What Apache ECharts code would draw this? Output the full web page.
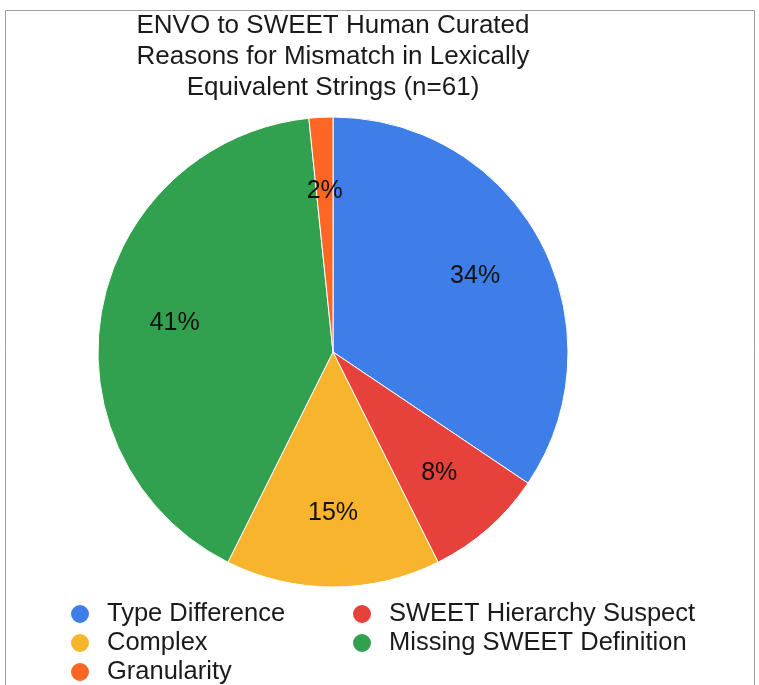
<!DOCTYPE html>
<html>
<head>
<meta charset="utf-8">
<script src="https://cdn.jsdelivr.net/npm/echarts@6/dist/echarts.min.js"></script>
<style>
html,body{margin:0;padding:0;background:#fff;}
#chart{width:759px;height:685px;}
</style>
</head>
<body>
<div id="chart"></div>
<script>
const titleText = 'ENVO to SWEET Human Curated\nReasons for Mismatch in Lexically\nEquivalent Strings (n=61)';
const categories = ['Type Difference', 'SWEET Hierarchy Suspect', 'Complex', 'Missing SWEET Definition', 'Granularity'];
const counts = [21, 5, 9, 25, 1];
const colors = ['#3d7ee9', '#e6413a', '#f8b42d', '#31a04f', '#fd6623'];
const legendCol1 = ['Type Difference', 'Complex', 'Granularity'];
const legendCol2 = ['SWEET Hierarchy Suspect', 'Missing SWEET Definition'];

const FONT = '"Liberation Sans", Arial, Helvetica, sans-serif';
const data = categories.map((c, i) => ({ name: c, value: counts[i], itemStyle: { color: colors[i] } }));

const legendBase = {
  orient: 'vertical',
  icon: 'circle',
  itemWidth: 20,
  itemHeight: 20,
  itemGap: 3,
  top: 601,
  height: 140,
  padding: 0,
  selectedMode: false,
  textStyle: { fontFamily: FONT, fontSize: 25.5, color: '#1a1a1a', padding: [0, 0, 0, 12] }
};

const chart = echarts.init(document.getElementById('chart'), null, { renderer: 'canvas' });
chart.setOption({
  backgroundColor: '#ffffff',
  animation: false,
  title: {
    text: titleText,
    left: 328,
    top: 5,
    textAlign: 'center',
    textStyle: { fontFamily: FONT, fontSize: 26, fontWeight: 'normal', color: '#1a1a1a', lineHeight: 31 }
  },
  graphic: [{
    type: 'rect',
    silent: true,
    z: -10,
    shape: { x: 5.5, y: 10.5, width: 749, height: 700 },
    style: { fill: 'none', stroke: '#9e9e9e', lineWidth: 1 }
  }],
  legend: [
    Object.assign({}, legendBase, { data: legendCol1, left: 69 }),
    Object.assign({}, legendBase, { data: legendCol2, left: 351 })
  ],
  series: [
    {
      type: 'pie',
      center: [333, 352],
      radius: [0, 235],
      startAngle: 90,
      clockwise: true,
      data: data,
      label: { show: false },
      labelLine: { show: false },
      itemStyle: { borderColor: '#ffffff', borderWidth: 1 },
      emphasis: { disabled: true }
    },
    {
      type: 'pie',
      center: [333, 352],
      radius: [81, 235],
      startAngle: 90,
      clockwise: true,
      silent: true,
      z: 5,
      data: data.map(d => ({ name: d.name, value: d.value })),
      itemStyle: { color: 'rgba(0,0,0,0)', borderWidth: 0 },
      label: {
        show: true,
        position: 'inside',
        formatter: p => Math.round(p.percent) + '%',
        fontFamily: FONT,
        fontSize: 25,
        color: '#111111'
      },
      labelLine: { show: false },
      emphasis: { disabled: true }
    }
  ]
});
</script>
</body>
</html>
